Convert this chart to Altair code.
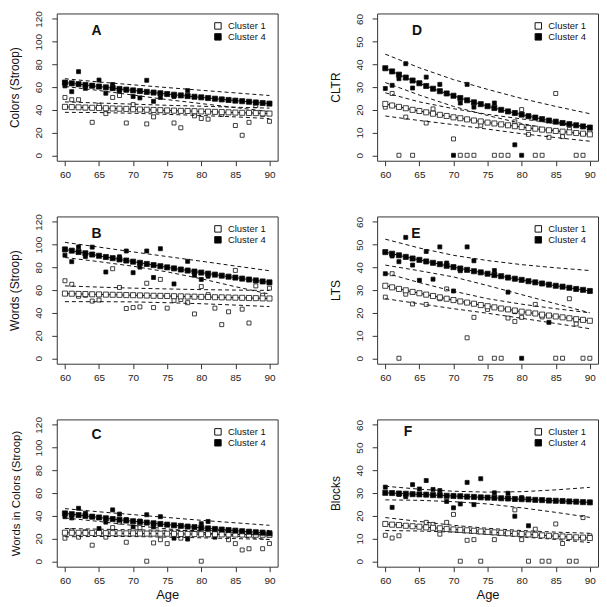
import altair as alt
import pandas as pd

FONT = "Liberation Sans"
AGES = list(range(60, 91))
BAND_AGES = [60, 65, 70, 75, 80, 85, 90]
CLUSTERS = ["Cluster 1", "Cluster 4"]

# ---------------- Panel A : Colors (Stroop) ----------------
A_FIT1 = [42.6, 42.4, 42.2, 42.0, 41.8, 41.6, 41.4, 41.2, 41.0, 40.8, 40.5, 40.3, 40.1, 39.9, 39.7, 39.5,
          39.3, 39.1, 39.0, 38.8, 38.6, 38.4, 38.2, 38.0, 37.8, 37.6, 37.4, 37.3, 37.1, 36.9, 36.7]
A_FIT4 = [64.0, 63.3, 62.6, 61.9, 61.2, 60.5, 59.8, 59.1, 58.4, 57.8, 57.1, 56.5, 55.8, 55.2, 54.6, 53.9,
          53.3, 52.7, 52.1, 51.5, 51.0, 50.4, 49.8, 49.2, 48.7, 48.1, 47.6, 47.1, 46.5, 46.0, 45.5]
A_B1_UP = [47.0, 46.0, 45.0, 44.0, 43.2, 42.3, 41.5]
A_B1_LO = [37.8, 37.6, 37.0, 36.0, 35.0, 33.8, 32.3]
A_B4_UP = [67.4, 64.5, 62.0, 59.6, 57.2, 54.9, 52.6]
A_B4_LO = [60.6, 57.0, 53.0, 49.0, 45.5, 42.0, 38.5]
A_O1_AGE = [60, 61, 62, 63, 64, 65, 66, 67, 68, 69, 70, 72, 73, 74, 75, 76, 77, 79, 80, 81, 83, 85, 86, 87, 88, 89, 90]
A_O1_VAL = [50.9, 48.9, 48.9, 41.8, 29.0, 44.0, 36.7, 50.9, 52.6, 28.4, 44.6, 27.6, 33.8, 39.5, 39.0, 28.4,
            24.2, 34.7, 32.4, 31.8, 36.0, 26.2, 17.6, 29.0, 43.8, 36.0, 29.9]
A_O4_AGE = [60, 60, 61, 62, 63, 64, 65, 66, 67, 67, 68, 69, 70, 71, 72, 73, 74, 76, 78, 88]
A_O4_VAL = [61.1, 63.5, 56.0, 73.6, 58.9, 61.5, 66.2, 54.6, 62.3, 59.0, 56.6, 57.5, 51.7, 50.5, 66.0, 47.5,
            50.9, 51.7, 56.9, 46.0]

# ---------------- Panel B : Words (Stroop) ----------------
B_FIT1 = [56.9, 56.8, 56.6, 56.5, 56.3, 56.2, 56.0, 55.9, 55.8, 55.6, 55.5, 55.3, 55.2, 55.0, 54.9, 54.8,
          54.6, 54.5, 54.3, 54.2, 54.0, 53.9, 53.7, 53.6, 53.5, 53.3, 53.2, 53.0, 52.9, 52.7, 52.6]
B_FIT4 = [95.8, 94.7, 93.5, 92.4, 91.3, 90.2, 89.1, 88.1, 87.0, 86.0, 85.0, 84.0, 83.0, 82.0, 81.0, 80.0,
          79.1, 78.1, 77.2, 76.3, 75.4, 74.5, 73.6, 72.7, 71.8, 71.0, 70.1, 69.3, 68.5, 67.6, 66.8]
B_B1_UP = [63.7, 62.6, 61.7, 61.0, 60.4, 60.0, 59.7]
B_B1_LO = [49.8, 49.8, 49.6, 48.9, 48.0, 46.8, 45.5]
B_B4_UP = [102.0, 97.8, 93.6, 89.5, 85.4, 81.2, 77.0]
B_B4_LO = [88.7, 85.0, 81.0, 76.0, 70.0, 63.0, 56.5]
B_O1_AGE = [60, 61, 62, 63, 64, 65, 67, 68, 69, 70, 71, 72, 73, 74, 75, 76, 77, 78, 79, 80, 81, 82, 83, 84,
            85, 86, 87, 88, 89, 90]
B_O1_VAL = [68.2, 65.1, 54.6, 55.4, 50.3, 51.2, 78.8, 62.3, 43.8, 44.6, 45.2, 66.0, 44.6, 69.4, 44.1, 50.9,
            51.7, 48.9, 39.0, 63.1, 56.0, 44.1, 29.6, 40.9, 77.3, 43.2, 31.0, 63.7, 55.4, 61.7]
B_O4_AGE = [60, 61, 62, 63, 64, 66, 68, 69, 70, 71, 72, 73, 74, 76, 78, 79, 80, 81]
B_O4_VAL = [90.7, 85.0, 98.0, 89.6, 97.8, 75.9, 89.3, 94.4, 75.3, 80.2, 94.4, 71.1, 96.4, 65.4, 85.3, 73.1,
            69.4, 72.2]

# ---------------- Panel C : Words in Colors (Stroop) ----------------
C_FIT1 = [25.1, 25.0, 25.0, 24.9, 24.9, 24.8, 24.7, 24.7, 24.6, 24.5, 24.5, 24.4, 24.3, 24.3, 24.2, 24.2,
          24.1, 24.0, 24.0, 23.9, 23.8, 23.8, 23.7, 23.6, 23.6, 23.5, 23.5, 23.4, 23.3, 23.3, 23.2]
C_FIT4 = [42.1, 41.4, 40.6, 39.9, 39.2, 38.5, 37.8, 37.1, 36.5, 35.8, 35.2, 34.6, 34.0, 33.4, 32.8, 32.2,
          31.6, 31.1, 30.5, 30.0, 29.4, 28.9, 28.4, 27.9, 27.4, 26.9, 26.4, 26.0, 25.5, 25.1, 24.6]
C_B1_UP = [28.8, 28.2, 27.6, 27.2, 27.0, 27.0, 27.1]
C_B1_LO = [21.5, 21.8, 21.7, 21.2, 20.6, 19.9, 19.2]
C_B4_UP = [46.3, 43.5, 41.0, 38.5, 36.0, 33.8, 31.6]
C_B4_LO = [38.1, 35.0, 31.5, 28.5, 25.5, 22.0, 19.0]
C_O1_AGE = [60, 61, 62, 63, 64, 66, 67, 68, 69, 71, 72, 73, 74, 75, 77, 79, 80, 81, 84, 85, 86, 87, 89, 90]
C_O1_VAL = [20.3, 26.8, 21.2, 26.0, 14.1, 21.2, 29.6, 34.4, 16.7, 29.6, 0.0, 16.1, 18.9, 15.5, 20.3, 24.0,
            0.0, 23.2, 18.9, 15.5, 9.9, 11.0, 11.0, 15.5]
C_O4_AGE = [60, 61, 62, 63, 64, 65, 66, 67, 68, 69, 70, 71, 72, 73, 74, 76, 78, 80, 81, 82]
C_O4_VAL = [39.2, 38.1, 46.6, 42.3, 39.2, 28.8, 34.4, 45.2, 41.5, 36.7, 30.2, 35.3, 40.9, 30.2, 39.2, 20.3,
            19.5, 33.0, 35.0, 21.2]

# ---------------- Panel D : CLTR ----------------
D_FIT1 = [22.6, 21.9, 21.3, 20.7, 20.0, 19.5, 18.9, 18.3, 17.8, 17.3, 16.7, 16.3, 15.8, 15.3, 14.9, 14.4,
          14.0, 13.6, 13.2, 12.8, 12.4, 12.0, 11.7, 11.3, 11.0, 10.7, 10.4, 10.1, 9.8, 9.5, 9.2]
D_FIT4 = [38.3, 36.9, 35.5, 34.2, 32.9, 31.7, 30.5, 29.3, 28.2, 27.2, 26.2, 25.2, 24.2, 23.3, 22.5, 21.6,
          20.8, 20.0, 19.3, 18.6, 17.9, 17.2, 16.6, 15.9, 15.3, 14.8, 14.2, 13.7, 13.2, 12.7, 12.2]
D_B1_UP = [27.5, 23.5, 20.5, 18.0, 16.0, 14.0, 12.5]
D_B1_LO = [17.3, 15.3, 13.5, 11.5, 9.5, 7.8, 6.2]
D_B4_UP = [44.5, 38.5, 33.3, 29.0, 25.0, 21.5, 18.3]
D_B4_LO = [32.0, 26.5, 21.5, 17.5, 14.0, 11.0, 8.5]
D_O1_AGE = [60, 61, 62, 63, 64, 66, 67, 70, 71, 72, 73, 74, 76, 77, 78, 79, 80, 81, 82, 83, 84, 85, 86, 87,
            88, 89, 90]
D_O1_VAL = [21.2, 27.2, 0.0, 16.8, 0.0, 14.2, 20.4, 7.2, 0.0, 0.0, 0.0, 13.2, 0.0, 0.0, 0.0, 14.7, 20.1, 9.2,
            0.0, 0.0, 7.9, 27.2, 8.2, 11.4, 0.0, 0.0, 10.4]
D_O4_AGE = [60, 61, 62, 63, 64, 66, 68, 70, 71, 72, 73, 76, 79, 80]
D_O4_VAL = [29.4, 30.8, 33.7, 40.3, 29.6, 34.4, 31.2, 0.0, 23.0, 31.2, 21.2, 23.0, 4.6, 0.0]

# ---------------- Panel E : LTS ----------------
E_FIT1 = [31.9, 31.2, 30.5, 29.9, 29.2, 28.6, 28.0, 27.4, 26.8, 26.2, 25.6, 25.0, 24.5, 24.0, 23.4, 22.9,
          22.4, 21.9, 21.5, 21.0, 20.5, 20.1, 19.7, 19.2, 18.8, 18.4, 18.0, 17.6, 17.2, 16.9, 16.5]
E_FIT4 = [46.7, 46.0, 45.3, 44.6, 43.9, 43.3, 42.6, 42.0, 41.4, 40.7, 40.1, 39.5, 38.9, 38.3, 37.8, 37.2,
          36.6, 36.1, 35.5, 35.0, 34.5, 33.9, 33.4, 32.9, 32.4, 31.9, 31.5, 31.0, 30.5, 30.1, 29.6]
E_B1_UP = [37.5, 33.3, 29.5, 26.2, 23.8, 21.8, 20.0]
E_B1_LO = [26.2, 24.0, 21.8, 19.8, 17.6, 15.3, 13.0]
E_B4_UP = [52.4, 48.5, 45.3, 43.0, 41.2, 39.8, 38.6]
E_B4_LO = [41.0, 38.5, 35.8, 32.0, 28.0, 24.0, 20.0]
E_O1_AGE = [60, 61, 62, 63, 64, 66, 68, 69, 72, 73, 74, 75, 76, 77, 78, 79, 80, 82, 83, 85, 86, 87, 88, 89, 90]
E_O1_VAL = [26.9, 37.2, 0.0, 28.2, 23.9, 23.7, 26.2, 30.5, 9.0, 18.0, 0.0, 21.5, 0.0, 0.0, 17.7, 16.2, 18.0,
            23.7, 18.2, 0.0, 0.0, 26.2, 15.1, 0.0, 0.0]
E_O4_AGE = [60, 61, 62, 63, 64, 65, 66, 67, 68, 69, 70, 71, 72, 73, 76, 78, 79, 80, 84]
E_O4_VAL = [37.2, 45.0, 42.5, 53.2, 41.0, 34.3, 47.0, 34.8, 49.0, 41.9, 29.6, 38.5, 49.0, 42.9, 38.6, 29.1,
            20.5, 0.0, 15.8]

# ---------------- Panel F : Blocks ----------------
F_FIT1 = [16.4, 16.1, 15.9, 15.6, 15.4, 15.2, 14.9, 14.7, 14.5, 14.2, 14.0, 13.8, 13.6, 13.4, 13.1, 12.9,
          12.7, 12.5, 12.3, 12.1, 12.0, 11.8, 11.6, 11.4, 11.2, 11.0, 10.9, 10.7, 10.5, 10.4, 10.2]
F_FIT4 = [30.1, 30.0, 29.8, 29.7, 29.5, 29.4, 29.3, 29.1, 29.0, 28.8, 28.7, 28.6, 28.4, 28.3, 28.1, 28.0,
          27.9, 27.7, 27.6, 27.4, 27.3, 27.2, 27.0, 26.9, 26.7, 26.6, 26.5, 26.3, 26.2, 26.0, 25.9]
F_B1_UP = [19.2, 17.5, 15.8, 14.5, 13.5, 12.8, 12.3]
F_B1_LO = [13.5, 13.3, 12.8, 11.8, 10.7, 9.6, 8.2]
F_B4_UP = [33.0, 31.7, 30.8, 30.4, 30.6, 31.4, 32.5]
F_B4_LO = [27.0, 26.8, 26.2, 25.2, 23.5, 21.5, 19.3]
F_O1_AGE = [60, 61, 62, 66, 67, 68, 69, 70, 71, 72, 73, 74, 76, 79, 80, 81, 82, 83, 84, 85, 86, 87, 88, 89, 90]
F_O1_VAL = [11.4, 10.2, 11.2, 17.1, 16.2, 11.9, 17.1, 20.6, 0.0, 9.2, 9.5, 0.0, 9.5, 22.6, 9.5, 0.0, 14.1,
            0.0, 0.0, 16.4, 7.8, 0.0, 0.0, 19.2, 11.2]
F_O4_AGE = [60, 61, 62, 63, 64, 65, 66, 67, 68, 69, 70, 71, 72, 73, 74, 76, 78, 79, 80, 81]
F_O4_VAL = [32.6, 23.7, 29.4, 28.4, 33.7, 31.8, 35.5, 31.6, 31.1, 26.3, 23.5, 25.2, 34.7, 24.9, 36.3, 30.1,
            29.9, 19.8, 28.0, 15.6]

W, H = 222, 148
INK = "#111111"
LEG_FILLS = ["white", "black"]
LEG_SYM_X, LEG_TXT_X, LEG_Y = 162, 172, [12.5, 23.5]


def legend_layers():
    layers = []
    for name, fill, y in zip(CLUSTERS, LEG_FILLS, LEG_Y):
        d = pd.DataFrame({"cluster": [name]})
        layers.append(alt.Chart(d).mark_square(size=42, stroke=INK, strokeWidth=1, fill=fill, opacity=1).encode(
            x=alt.value(LEG_SYM_X), y=alt.value(y)))
        layers.append(alt.Chart(d).mark_text(font=FONT, fontSize=9.5, color=INK, align="left",
                                             baseline="middle").encode(
            text="cluster:N", x=alt.value(LEG_TXT_X), y=alt.value(y)))
    return layers


def panel(letter, ytitle, ymax, ystep, fit1, fit4, b1u, b1l, b4u, b4l, o1a, o1v, o4a, o4v,
          show_age, lx, ly, tsize, tpad):
    xsc = alt.Scale(domain=[58.8, 91.2], nice=False, zero=False)
    ysc = alt.Scale(domain=[-0.04 * ymax, 1.04 * ymax], nice=False, zero=False)
    fsc = alt.Scale(domain=CLUSTERS, range=LEG_FILLS)
    xax = alt.Axis(values=BAND_AGES, tickSize=5, labelPadding=4, labelAngle=0,
                   title="Age" if show_age else "", titlePadding=3, titleFontSize=13)
    yax = alt.Axis(values=list(range(0, ymax + 1, ystep)), tickSize=5, labelPadding=8,
                   labelAngle=270, labelAlign="center", labelBaseline="bottom",
                   title=ytitle, titleFontSize=tsize, titlePadding=tpad)
    X = alt.X("age:Q", scale=xsc, axis=xax)
    Y = alt.Y("val:Q", scale=ysc, axis=yax)

    obs = pd.DataFrame({
        "age": o1a + o4a,
        "val": o1v + o4v,
        "cluster": ["Cluster 1"] * len(o1a) + ["Cluster 4"] * len(o4a),
    })
    fit = pd.DataFrame({
        "age": AGES + AGES,
        "val": fit1 + fit4,
        "cluster": ["Cluster 1"] * len(AGES) + ["Cluster 4"] * len(AGES),
    })
    bands = pd.DataFrame({
        "age": BAND_AGES * 4,
        "val": b1u + b1l + b4u + b4l,
        "band": ["1u"] * 7 + ["1l"] * 7 + ["4u"] * 7 + ["4l"] * 7,
    })

    obs_layer = alt.Chart(obs).mark_square(size=16, stroke=INK, strokeWidth=0.8, opacity=1).encode(
        x=X, y=Y, fill=alt.Fill("cluster:N", scale=fsc, legend=None))
    band_layer = alt.Chart(bands).mark_line(color=INK, strokeWidth=1, strokeDash=[4, 3]).encode(
        x=X, y=Y, detail="band:N")
    fit_line = alt.Chart(fit).mark_line(color=INK, strokeWidth=1).encode(
        x=X, y=Y, detail="cluster:N")
    fit_sq = alt.Chart(fit).mark_square(size=26, stroke=INK, strokeWidth=0.8, opacity=1).encode(
        x=X, y=Y, fill=alt.Fill("cluster:N", scale=fsc, legend=None))
    lab = alt.Chart(pd.DataFrame({"t": [letter]})).mark_text(
        font=FONT, fontSize=14, fontWeight="bold", color=INK, align="center", baseline="middle").encode(
        text="t:N", x=alt.value(lx), y=alt.value(ly))
    return alt.layer(obs_layer, band_layer, fit_line, fit_sq, lab, *legend_layers()).properties(
        width=W, height=H)


pA = panel("A", "Colors (Stroop)", 120, 20, A_FIT1, A_FIT4, A_B1_UP, A_B1_LO, A_B4_UP, A_B4_LO,
           A_O1_AGE, A_O1_VAL, A_O4_AGE, A_O4_VAL, False, 40, 17.5, 12, 12)
pD = panel("D", "CLTR", 60, 10, D_FIT1, D_FIT4, D_B1_UP, D_B1_LO, D_B4_UP, D_B4_LO,
           D_O1_AGE, D_O1_VAL, D_O4_AGE, D_O4_VAL, False, 40, 17.5, 12, 12)
pB = panel("B", "Words (Stroop)", 120, 20, B_FIT1, B_FIT4, B_B1_UP, B_B1_LO, B_B4_UP, B_B4_LO,
           B_O1_AGE, B_O1_VAL, B_O4_AGE, B_O4_VAL, False, 40, 17.5, 12, 12)
pE = panel("E", "LTS", 60, 10, E_FIT1, E_FIT4, E_B1_UP, E_B1_LO, E_B4_UP, E_B4_LO,
           E_O1_AGE, E_O1_VAL, E_O4_AGE, E_O4_VAL, False, 39, 17.5, 12, 12)
pC = panel("C", "Words in Colors (Stroop)", 120, 20, C_FIT1, C_FIT4, C_B1_UP, C_B1_LO, C_B4_UP, C_B4_LO,
           C_O1_AGE, C_O1_VAL, C_O4_AGE, C_O4_VAL, True, 40, 16, 11.5, 12.5)
pF = panel("F", "Blocks", 60, 10, F_FIT1, F_FIT4, F_B1_UP, F_B1_LO, F_B4_UP, F_B4_LO,
           F_O1_AGE, F_O1_VAL, F_O4_AGE, F_O4_VAL, True, 31, 12.5, 12, 12)


def row(left, right):
    return alt.hconcat(left, right, spacing=50).resolve_scale(
        x="independent", y="independent", fill="independent")


chart = alt.vconcat(row(pA, pD), row(pB, pE), row(pC, pF), spacing=32).resolve_scale(
    x="independent", y="independent", fill="independent").properties(
    padding=0).configure_view(stroke="#333333", strokeWidth=1).configure_axis(
    labelFont=FONT, titleFont=FONT, labelColor="#222222", titleColor=INK, tickColor="#333333",
    domain=False, grid=False, labelFontSize=10, titleFontWeight="normal")

chart.save("out.html", embed_options={"renderer": "svg", "actions": False})
